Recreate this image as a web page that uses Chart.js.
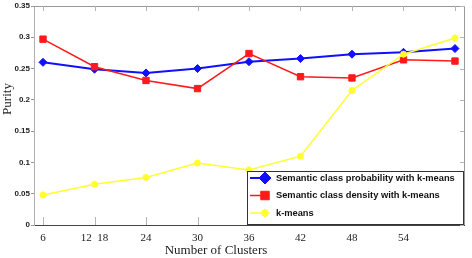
<!DOCTYPE html>
<html>
<head>
<meta charset="utf-8">
<script src="https://cdn.jsdelivr.net/npm/chart.js@4.4.0/dist/chart.umd.min.js"></script>
<style>
  html, body { margin: 0; padding: 0; background: #fff; }
  #wrap { width: 472px; height: 258px; }
</style>
</head>
<body>
<div id="wrap"><canvas id="grafico" width="472" height="258"></canvas></div>
<script>
// valores
const xLabels = ['6', '12  18', '24', '30', '36', '42', '48', '54', ''];
const probabilidade = [0.260, 0.249, 0.243, 0.250, 0.261, 0.266, 0.273, 0.276, 0.282];
const densidade = [0.297, 0.253, 0.231, 0.218, 0.274, 0.237, 0.235, 0.264, 0.262];
const kmeans = [0.048, 0.065, 0.076, 0.099, 0.088, 0.110, 0.215, 0.273, 0.299];
const yTicks = [0, 0.05, 0.1, 0.15, 0.2, 0.25, 0.3, 0.35];
const legendas = [
  'Semantic class probability with k-means',
  'Semantic class density with k-means',
  'k-means'
];

const pontos = (arr) => arr.map((v, i) => ({ x: i, y: v }));

// moldura, ticks internos, títulos e legenda
const extras = {
  id: 'extras',
  afterDraw(chart) {
    const ctx = chart.ctx;
    const a = chart.chartArea;
    const xs = chart.scales.x;
    const ys = chart.scales.y;
    ctx.save();

    // borda de cima e da direita
    ctx.strokeStyle = '#9a9a9a';
    ctx.lineWidth = 1;
    ctx.beginPath();
    ctx.moveTo(a.left, a.top + 0.5);
    ctx.lineTo(a.right + 0.5, a.top + 0.5);
    ctx.lineTo(a.right + 0.5, a.bottom);
    ctx.stroke();

    // ticks internos
    ctx.strokeStyle = '#b5b5b5';
    ctx.beginPath();
    xLabels.forEach((_, i) => {
      const px = Math.round(xs.getPixelForValue(i)) + 0.5;
      ctx.moveTo(px, a.top);
      ctx.lineTo(px, a.top + 5);
      ctx.moveTo(px, a.bottom);
      ctx.lineTo(px, a.bottom - 8);
    });
    yTicks.forEach((v) => {
      const py = Math.round(ys.getPixelForValue(v)) + 0.5;
      ctx.moveTo(a.right, py);
      ctx.lineTo(a.right - 4, py);
    });
    ctx.stroke();

    // títulos dos eixos
    ctx.fillStyle = '#222';
    ctx.font = '13px "Liberation Serif", "Times New Roman", serif';
    ctx.textAlign = 'center';
    ctx.textBaseline = 'middle';
    ctx.fillText('Number of Clusters', 216, 251);
    ctx.save();
    ctx.translate(8, 99);
    ctx.rotate(-Math.PI / 2);
    ctx.fillText('Purity', 0, 0);
    ctx.restore();

    // legenda
    const bx = 247, by = 171, bw = 216, bh = 53;
    ctx.fillStyle = '#fff';
    ctx.fillRect(bx, by, bw, bh);
    ctx.strokeStyle = '#333';
    ctx.lineWidth = 1;
    ctx.strokeRect(bx + 0.5, by + 0.5, bw, bh);

    chart.data.datasets.forEach((ds, i) => {
      const cy = by + 7 + i * 17.5;
      ctx.strokeStyle = ds.borderColor;
      ctx.fillStyle = ds.backgroundColor;
      ctx.lineWidth = ds.borderWidth;
      ctx.beginPath();
      ctx.moveTo(bx + 3, cy);
      ctx.lineTo(bx + 22, cy);
      ctx.stroke();
      ctx.lineWidth = i === 2 ? 2 : 1;
      Chart.helpers.drawPoint(ctx, {
        pointStyle: ds.pointStyle,
        radius: i === 2 ? 4 : 6,
        borderWidth: i === 2 ? 2 : 1
      }, bx + 18, cy);
      ctx.fillStyle = '#111';
      ctx.font = 'bold 9.3px "Liberation Sans", Arial, sans-serif';
      ctx.textAlign = 'left';
      ctx.textBaseline = 'middle';
      ctx.fillText(legendas[i], bx + 29, cy);
    });
    ctx.restore();
  }
};

new Chart(document.getElementById('grafico'), {
  type: 'line',
  data: {
    datasets: [
      {
        label: legendas[0],
        data: pontos(probabilidade),
        borderColor: '#1010ff',
        backgroundColor: '#1010ff',
        borderWidth: 2,
        pointStyle: 'rectRot',
        radius: 4,
        pointBorderWidth: 1,
        order: 2
      }, {
        label: legendas[1],
        data: pontos(densidade),
        borderColor: '#ff1a1a',
        backgroundColor: '#ff1a1a',
        borderWidth: 1.5,
        pointStyle: 'rect',
        radius: 4.5,
        pointBorderWidth: 1,
        order: 1
      }, {
        label: legendas[2],
        data: pontos(kmeans),
        borderColor: '#ffff30',
        backgroundColor: '#ffff30',
        borderWidth: 1.5,
        pointStyle: 'star',
        radius: 3.5,
        pointBorderWidth: 2,
        order: 0
      }
    ]
  },
  options: {
    responsive: false,
    animation: false,
    devicePixelRatio: 1,
    layout: { padding: { top: 5, right: 8, left: 0, bottom: 0 } },
    plugins: {
      legend: { display: false },
      tooltip: { enabled: false }
    },
    scales: {
      x: {
        type: 'linear',
        min: -0.175,
        max: 8.175,
        afterBuildTicks: (s) => { s.ticks = xLabels.map((_, i) => ({ value: i })); },
        afterFit: (s) => { s.height = 33; },
        grid: { display: false, drawTicks: false, tickLength: 0 },
        border: { display: true, color: '#444', width: 1 },
        ticks: {
          padding: 7,
          maxRotation: 0,
          autoSkip: false,
          color: '#222',
          font: { family: '"Liberation Serif", "Times New Roman", serif', size: 11 },
          callback: (v) => xLabels[v]
        }
      },
      y: {
        min: 0,
        max: 0.35,
        afterBuildTicks: (s) => { s.ticks = yTicks.map((v) => ({ value: v })); },
        afterFit: (s) => { s.width = 34; },
        grid: { drawOnChartArea: false, drawTicks: true, tickLength: 3, color: '#999' },
        border: { display: true, color: '#b0b0b0', width: 1 },
        ticks: {
          padding: 1,
          color: '#222',
          font: { family: '"Liberation Sans", Arial, sans-serif', size: 8, weight: 'bold' },
          callback: (v) => String(+v.toFixed(2))
        }
      }
    }
  },
  plugins: [extras]
});
</script>
</body>
</html>
